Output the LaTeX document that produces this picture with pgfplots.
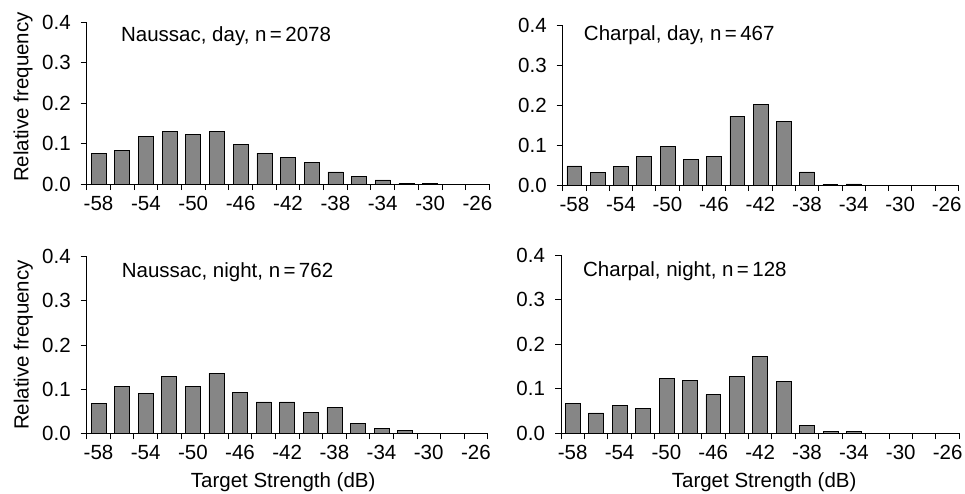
\documentclass[border=0pt]{standalone}
\usepackage{pgfplots}
\pgfplotsset{compat=1.18}
\usepackage{fontspec}
\setmainfont{Liberation Sans}
\definecolor{barfill}{HTML}{868686}
\pgfplotsset{
  histo/.style={
    scale only axis,
    anchor=south west,
    axis lines*=left,
    xmin=-59, xmax=-25,
    ymin=0, ymax=0.4,
    xtick={-59,-57,...,-25},
    xticklabels={},
    extra x ticks={-58,-54,-50,-46,-42,-38,-34,-30,-26},
    extra x tick labels={-58,-54,-50,-46,-42,-38,-34,-30,-26},
    extra x tick style={major tick length=0pt},
    ytick={0,0.1,0.2,0.3,0.4},
    yticklabels={0.0,0.1,0.2,0.3,0.4},
    xtick align=center,
    ytick align=outside,
    major tick length=6pt,
    axis line style={line width=0.8pt},
    every tick/.style={line width=0.8pt, black},
    x tick label style={yshift=-5pt},
    y tick label style={xshift=-3pt},
    ybar,
    bar width=1.27,
    clip=false,
  },
  hbar/.style={fill=barfill, draw=black, line width=0.6pt},
}
\begin{document}
\fontsize{20.5}{24}\selectfont
\begin{tikzpicture}
\useasboundingbox (0,0) rectangle (965pt,493pt);

% Top-left
\begin{axis}[histo, at={(86.7pt,309pt)}, width=402.6pt, height=162pt,
  ylabel={Relative frequency},
  ylabel style={at={(axis description cs:-0.158,0.537)}, anchor=center}]
\addplot[hbar] coordinates {
(-58,0.075) (-56,0.083) (-54,0.118) (-52,0.130) (-50,0.123) (-48,0.129)
(-46,0.098) (-44,0.076) (-42,0.065) (-40,0.054) (-38,0.030) (-36,0.018)
(-34,0.010) (-32,0.002) (-30,0.0015)};
\node[anchor=west] at (rel axis cs:0.068,0.915) {Naussac, day, n\,=\,2078};
\end{axis}

% Top-right
\begin{axis}[histo, at={(562.7pt,308pt)}, width=395.6pt, height=160pt]
\addplot[hbar] coordinates {
(-58,0.048) (-56,0.032) (-54,0.047) (-52,0.072) (-50,0.096) (-48,0.064)
(-46,0.072) (-44,0.172) (-42,0.202) (-40,0.158) (-38,0.033) (-36,0.002)
(-34,0.003)};
\node[anchor=west] at (rel axis cs:0.036,0.935) {Charpal, day, n\,=\,467};
\end{axis}

% Bottom-left
\begin{axis}[histo, at={(86.7pt,59.7pt)}, width=401pt, height=176.6pt,
  ylabel={Relative frequency},
  ylabel style={at={(axis description cs:-0.158,0.5)}, anchor=center},
  xlabel={Target Strength (dB)},
  xlabel style={at={(axis description cs:0.49,-0.275)}, anchor=center}]
\addplot[hbar] coordinates {
(-58,0.068) (-56,0.107) (-54,0.090) (-52,0.128) (-50,0.106) (-48,0.136)
(-46,0.092) (-44,0.071) (-42,0.071) (-40,0.047) (-38,0.058) (-36,0.023)
(-34,0.012) (-32,0.006)};
\node[anchor=west] at (rel axis cs:0.07,0.915) {Naussac, night, n\,=\,762};
\end{axis}

% Bottom-right
\begin{axis}[histo, at={(561pt,59.7pt)}, width=398.3pt, height=178.3pt,
  xlabel={Target Strength (dB)},
  xlabel style={at={(axis description cs:0.51,-0.272)}, anchor=center}]
\addplot[hbar] coordinates {
(-58,0.067) (-56,0.046) (-54,0.063) (-52,0.056) (-50,0.123) (-48,0.118)
(-46,0.087) (-44,0.127) (-42,0.172) (-40,0.116) (-38,0.018) (-36,0.0045)
(-34,0.004)};
\node[anchor=west] at (rel axis cs:0.038,0.91) {Charpal, night, n\,=\,128};
\end{axis}
\end{tikzpicture}
\end{document}
